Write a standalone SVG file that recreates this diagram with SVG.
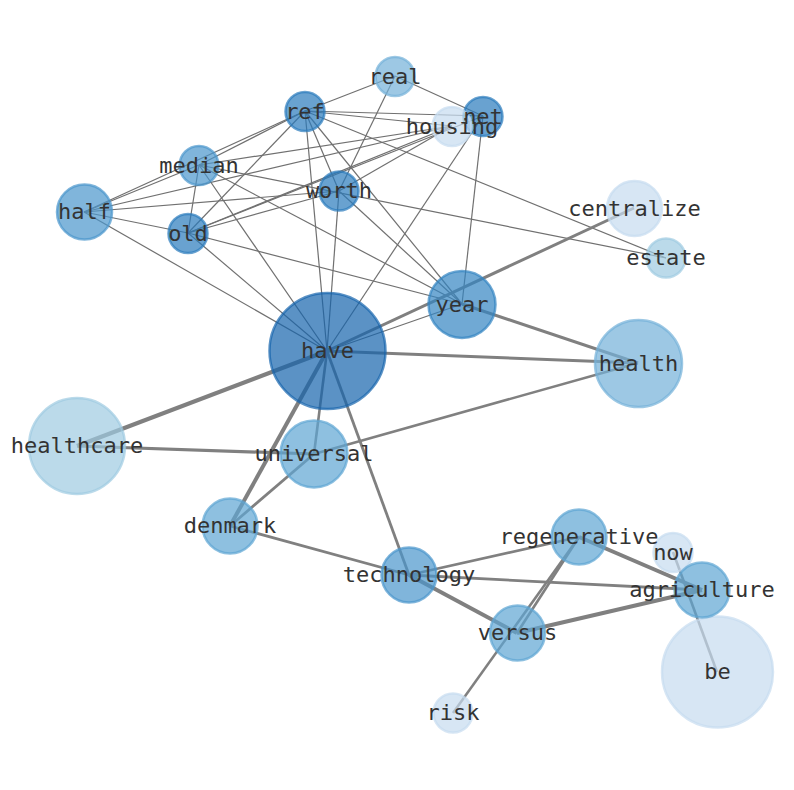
<svg xmlns="http://www.w3.org/2000/svg" width="794" height="790" viewBox="0 0 794 790">
<style>
.e{stroke:#707070;stroke-width:1.2;fill:none}
.t{stroke:#808080;fill:none;stroke-linecap:butt}
.n circle{stroke-width:2.5;fill-opacity:0.7;stroke-opacity:0.7}
.l text{font-family:"DejaVu Sans Mono","Liberation Mono",monospace;font-size:22px;fill:#333;text-anchor:middle}
.c1{fill:#1664ad;stroke:#1664ad}
.c2{fill:#2a7bbc;stroke:#2a7bbc}
.c3{fill:#3385c2;stroke:#3385c2}
.c4{fill:#4a95cc;stroke:#4a95cc}
.c5{fill:#5ea5d3;stroke:#5ea5d3}
.c6{fill:#74b1d8;stroke:#74b1d8}
.c7{fill:#9ecae1;stroke:#9ecae1}
.c8{fill:#c6dbef;stroke:#c6dbef}
</style>
<rect width="794" height="790" fill="#fff"/>
<g id="edges">
<line class="e" x1="395" y1="76" x2="305" y2="111"/>
<line class="e" x1="395" y1="76" x2="483" y2="116"/>
<line class="e" x1="395" y1="76" x2="339" y2="191"/>
<line class="e" x1="305" y1="111" x2="483" y2="116"/>
<line class="e" x1="305" y1="111" x2="452" y2="126"/>
<line class="e" x1="305" y1="111" x2="199" y2="165"/>
<line class="e" x1="305" y1="111" x2="84" y2="212"/>
<line class="e" x1="305" y1="111" x2="188" y2="233"/>
<line class="e" x1="305" y1="111" x2="339" y2="191"/>
<line class="e" x1="305" y1="111" x2="327" y2="351"/>
<line class="e" x1="305" y1="111" x2="462" y2="304"/>
<line class="e" x1="305" y1="111" x2="666" y2="258"/>
<line class="e" x1="199" y1="165" x2="452" y2="126"/>
<line class="e" x1="199" y1="165" x2="188" y2="233"/>
<line class="e" x1="199" y1="165" x2="327" y2="351"/>
<line class="e" x1="199" y1="165" x2="462" y2="304"/>
<line class="e" x1="199" y1="165" x2="666" y2="258"/>
<line class="e" x1="84" y1="212" x2="199" y2="165"/>
<line class="e" x1="84" y1="212" x2="339" y2="191"/>
<line class="e" x1="84" y1="212" x2="452" y2="126"/>
<line class="e" x1="84" y1="212" x2="188" y2="233"/>
<line class="e" x1="84" y1="212" x2="327" y2="351"/>
<line class="e" x1="188" y1="233" x2="452" y2="126"/>
<line class="e" x1="188" y1="233" x2="483" y2="116"/>
<line class="e" x1="188" y1="233" x2="339" y2="191"/>
<line class="e" x1="188" y1="233" x2="462" y2="304"/>
<line class="e" x1="188" y1="233" x2="327" y2="351"/>
<line class="e" x1="339" y1="191" x2="452" y2="126"/>
<line class="e" x1="339" y1="191" x2="327" y2="351"/>
<line class="e" x1="339" y1="191" x2="462" y2="304"/>
<line class="e" x1="483" y1="116" x2="327" y2="351"/>
<line class="e" x1="483" y1="116" x2="462" y2="304"/>
<line class="e" x1="327" y1="351" x2="462" y2="304"/>
<line class="t" stroke-width="3" x1="327" y1="351" x2="634" y2="208"/>
<line class="t" stroke-width="3" x1="462" y1="304" x2="638" y2="363"/>
<line class="t" stroke-width="3" x1="327" y1="351" x2="638" y2="363"/>
<line class="t" stroke-width="4.2" x1="327" y1="351" x2="77" y2="446"/>
<line class="t" stroke-width="3.2" x1="77" y1="446" x2="314" y2="454"/>
<line class="t" stroke-width="2.6" x1="314" y1="454" x2="638" y2="363"/>
<line class="t" stroke-width="2.6" x1="327" y1="351" x2="314" y2="454"/>
<line class="t" stroke-width="4" x1="327" y1="351" x2="230" y2="526"/>
<line class="t" stroke-width="2.8" x1="230" y1="526" x2="314" y2="454"/>
<line class="t" stroke-width="2.8" x1="230" y1="526" x2="409" y2="575"/>
<line class="t" stroke-width="2.8" x1="327" y1="351" x2="409" y2="575"/>
<line class="t" stroke-width="2.8" x1="409" y1="575" x2="579" y2="537"/>
<line class="t" stroke-width="2.8" x1="409" y1="575" x2="702" y2="590"/>
<line class="t" stroke-width="4" x1="409" y1="575" x2="517" y2="633"/>
<line class="t" stroke-width="4" x1="579" y1="537" x2="702" y2="590"/>
<line class="t" stroke-width="2.6" x1="579" y1="537" x2="517" y2="633"/>
<line class="t" stroke-width="2.6" x1="579" y1="537" x2="453" y2="713"/>
<line class="t" stroke-width="4" x1="517" y1="633" x2="702" y2="590"/>
<line class="t" stroke-width="2.6" x1="673" y1="552" x2="717" y2="672"/>
</g>
<g id="nodes" class="n">
<g id="node-be"><circle class="c8" cx="717.5" cy="672" r="55.5"/></g>
<g id="node-healthcare"><circle class="c7" cx="77" cy="446" r="48"/></g>
<g id="node-health"><circle class="c6" cx="638.5" cy="363.5" r="43.5"/></g>
<g id="node-have"><circle class="c1" cx="327.5" cy="351" r="58"/></g>
<g id="node-year"><circle class="c3" cx="462" cy="304.5" r="33.5"/></g>
<g id="node-universal"><circle class="c5" cx="314" cy="454" r="33.5"/></g>
<g id="node-denmark"><circle class="c5" cx="230" cy="526" r="27.5"/></g>
<g id="node-technology"><circle class="c4" cx="409" cy="575" r="27.5"/></g>
<g id="node-versus"><circle class="c5" cx="517.5" cy="633" r="27.5"/></g>
<g id="node-now"><circle class="c8" cx="673" cy="552.5" r="19.5"/></g>
<g id="node-regenerative"><circle class="c5" cx="579" cy="537" r="27.5"/></g>
<g id="node-agriculture"><circle class="c5" cx="702" cy="590" r="27.5"/></g>
<g id="node-risk"><circle class="c8" cx="453" cy="713" r="19.5"/></g>
<g id="node-centralize"><circle class="c8" cx="634.5" cy="208.5" r="27.5"/></g>
<g id="node-estate"><circle class="c7" cx="666" cy="258" r="19.5"/></g>
<g id="node-real"><circle class="c6" cx="395" cy="76.5" r="19.5"/></g>
<g id="node-net"><circle class="c2" cx="483" cy="116.5" r="19.5"/></g>
<g id="node-housing"><circle class="c8" cx="452" cy="126.5" r="19.5"/></g>
<g id="node-ref"><circle class="c2" cx="305" cy="111.5" r="19.5"/></g>
<g id="node-median"><circle class="c4" cx="199" cy="165.5" r="19.5"/></g>
<g id="node-worth"><circle class="c2" cx="339" cy="191" r="19.5"/></g>
<g id="node-half"><circle class="c4" cx="84.5" cy="212" r="27.5"/></g>
<g id="node-old"><circle class="c2" cx="188" cy="233.5" r="19.5"/></g>
</g>
<g id="labels" class="l">
<text id="label-be" x="717.5" y="679">be</text>
<text id="label-healthcare" x="77" y="453">healthcare</text>
<text id="label-health" x="638.5" y="370.5">health</text>
<text id="label-have" x="327.5" y="358">have</text>
<text id="label-year" x="462" y="311.5">year</text>
<text id="label-universal" x="314" y="461">universal</text>
<text id="label-denmark" x="230" y="533">denmark</text>
<text id="label-technology" x="409" y="582">technology</text>
<text id="label-versus" x="517.5" y="640">versus</text>
<text id="label-now" x="673" y="559.5">now</text>
<text id="label-regenerative" x="579" y="544">regenerative</text>
<text id="label-agriculture" x="702" y="597">agriculture</text>
<text id="label-risk" x="453" y="720">risk</text>
<text id="label-centralize" x="634.5" y="215.5">centralize</text>
<text id="label-estate" x="666" y="265">estate</text>
<text id="label-real" x="395" y="83.5">real</text>
<text id="label-net" x="483" y="123.5">net</text>
<text id="label-housing" x="452" y="133.5">housing</text>
<text id="label-ref" x="305" y="118.5">ref</text>
<text id="label-median" x="199" y="172.5">median</text>
<text id="label-worth" x="339" y="198">worth</text>
<text id="label-half" x="84.5" y="219">half</text>
<text id="label-old" x="188" y="240.5">old</text>
</g>
</svg>
